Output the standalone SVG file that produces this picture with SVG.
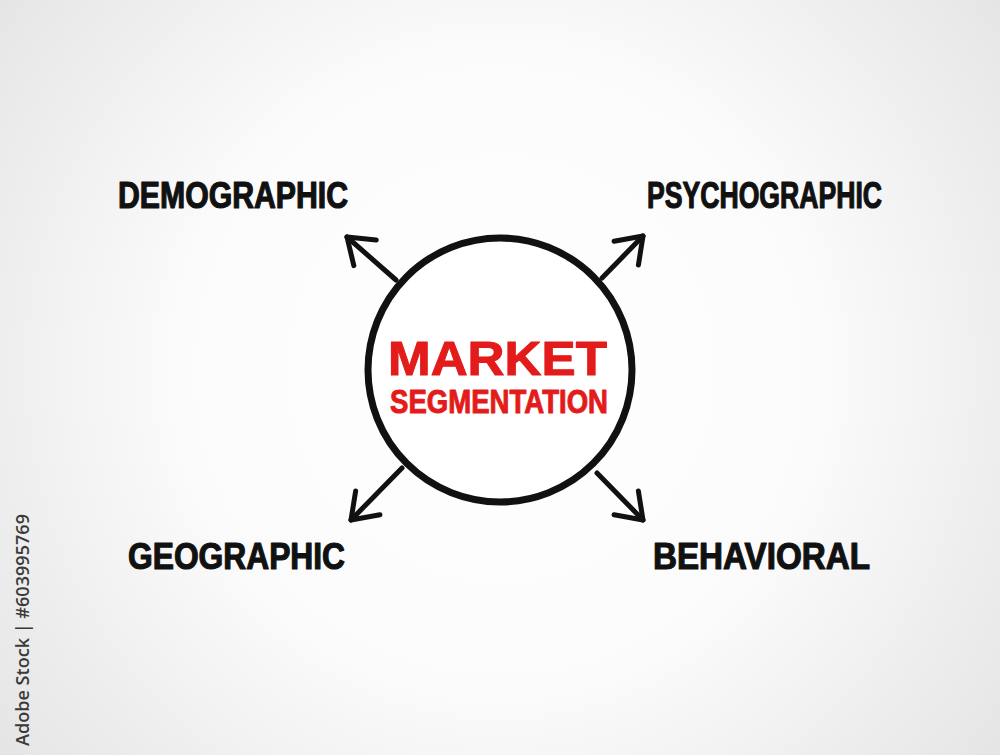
<svg xmlns="http://www.w3.org/2000/svg" width="1000" height="755" viewBox="0 0 1000 755">
  <defs>
    <radialGradient id="bg" cx="500" cy="370" r="640" gradientUnits="userSpaceOnUse">
      <stop offset="0" stop-color="#ffffff"/>
      <stop offset="0.5" stop-color="#fbfbfb"/>
      <stop offset="1" stop-color="#e4e4e4"/>
    </radialGradient>
    <marker id="arrow" markerUnits="userSpaceOnUse" markerWidth="44" markerHeight="44" refX="32" refY="22" orient="auto" viewBox="0 0 44 44">
      <path d="M8,5 L32,22 L8,39" fill="none" stroke="#111" stroke-width="5" stroke-linecap="round" stroke-linejoin="round"/>
    </marker>
    <style>
      .lbl { font-family: "Liberation Sans", Arial, sans-serif; font-weight: bold; font-size: 36px; fill: #111; stroke: #111; stroke-width: 1.2; stroke-linejoin: round; }
      .ctr { font-family: "Liberation Sans", Arial, sans-serif; font-weight: bold; fill: #e31b1b; stroke: #e31b1b; stroke-width: 1; stroke-linejoin: round; }
      .conn { stroke: #111; stroke-width: 5; stroke-linecap: round; fill: none; }
      .wm { font-family: "Open Sans", "DejaVu Sans", sans-serif; font-size: 18px; font-weight: 600; fill: #3a3a3a; }
    </style>
  </defs>
  <rect x="0" y="0" width="1000" height="755" fill="url(#bg)"/>

  <g id="connectors">
    <line class="conn" x1="396" y1="280" x2="347" y2="237" marker-end="url(#arrow)"/>
    <line class="conn" x1="602" y1="278" x2="643" y2="236" marker-end="url(#arrow)"/>
    <line class="conn" x1="402" y1="468" x2="351" y2="520" marker-end="url(#arrow)"/>
    <line class="conn" x1="597" y1="473" x2="643" y2="520" marker-end="url(#arrow)"/>
  </g>

  <g id="center">
    <circle cx="500" cy="370" r="132" fill="#ffffff" stroke="#111" stroke-width="7"/>
    <text class="ctr" x="388" y="375" font-size="49" textLength="219" lengthAdjust="spacingAndGlyphs">MARKET</text>
    <text class="ctr" x="390" y="413" font-size="34" textLength="218" lengthAdjust="spacingAndGlyphs">SEGMENTATION</text>
  </g>

  <g id="demographic">
    <text class="lbl" x="118" y="208" textLength="230" lengthAdjust="spacingAndGlyphs">DEMOGRAPHIC</text>
  </g>
  <g id="psychographic">
    <text class="lbl" x="647" y="208" textLength="235" lengthAdjust="spacingAndGlyphs">PSYCHOGRAPHIC</text>
  </g>
  <g id="geographic">
    <text class="lbl" x="128" y="569" textLength="217" lengthAdjust="spacingAndGlyphs">GEOGRAPHIC</text>
  </g>
  <g id="behavioral">
    <text class="lbl" x="653" y="569" textLength="217" lengthAdjust="spacingAndGlyphs">BEHAVIORAL</text>
  </g>

  <text class="wm" transform="translate(29,746) rotate(-90)" textLength="232" lengthAdjust="spacingAndGlyphs">Adobe Stock | #603995769</text>
</svg>
